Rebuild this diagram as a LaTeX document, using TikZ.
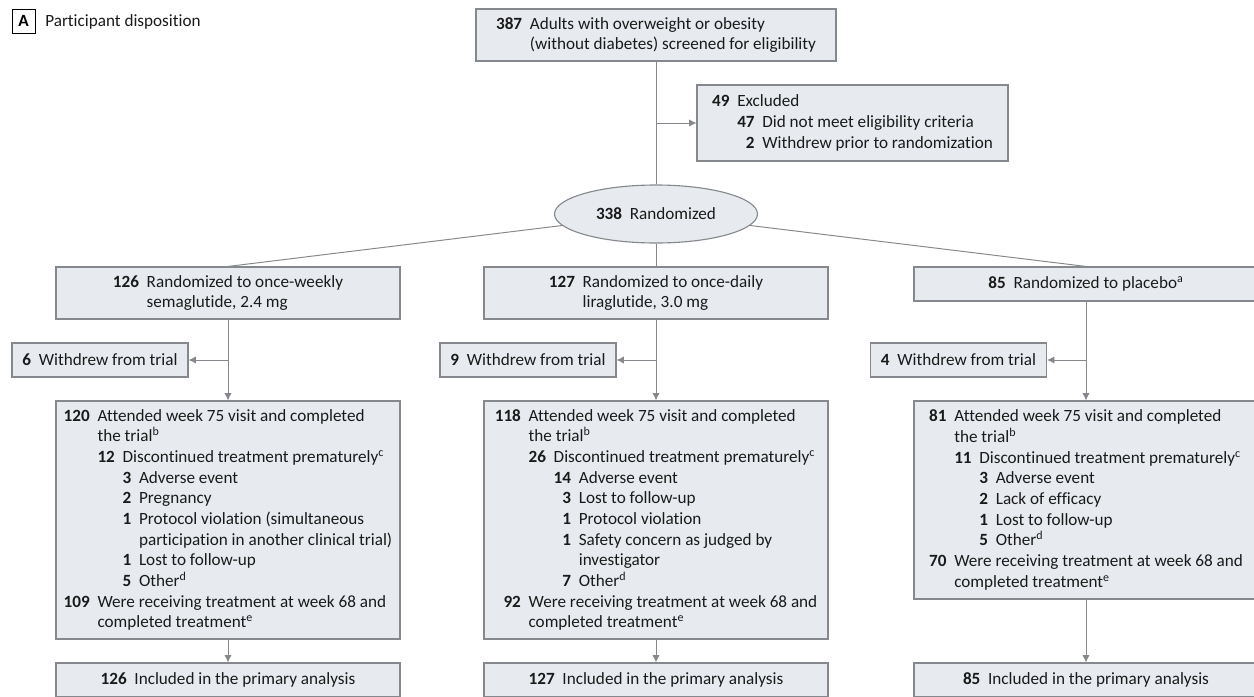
\documentclass[tikz,border=0pt]{standalone}
\usepackage{fontspec}
\usepackage{calc}
\setmainfont[Ligatures={NoCommon,NoRare}]{Carlito}
\definecolor{consortfill}{HTML}{E7EBEF}
\definecolor{consortgray}{HTML}{85888C}
\definecolor{consorttext}{HTML}{1A1A1A}
\usetikzlibrary{arrows.meta,positioning,shapes.geometric}
% bold count, right aligned in a column as wide as #1
\newcommand{\cnt}[2]{\makebox[\widthof{\textbf{#1}}][r]{\textbf{#2}}\hspace{0.45em}}
\newcommand{\skipcol}[1]{\hphantom{\textbf{#1}}\hspace{0.45em}}
\tikzset{
    consortbox/.style={
        draw=consortgray,
        fill=consortfill,
        line width=0.8pt,
        minimum width=8.6cm,
        inner sep=0pt,
        align=left,
        text=consorttext,
        font=\fontsize{12.2}{14.7}\selectfont
    },
    consortsmall/.style={
        consortbox,
        minimum width=4.4cm,
        minimum height=0.85cm
    },
    consortoval/.style={
        consortbox,
        ellipse,
        minimum width=5.075cm,
        minimum height=1.45cm
    },
    consortline/.style={
        draw=consortgray,
        line width=0.7pt
    },
    consortarrow/.style={
        -{Latex[length=1.8mm,width=1.8mm]},
        draw=consortgray,
        line width=0.7pt
    }
}

\begin{document}
\begin{tikzpicture}
    \useasboundingbox (0,0) rectangle (31.35,-17.4);
    % panel title
    \node[draw=black,line width=0.6pt,minimum width=0.575cm,minimum height=0.6cm,
        inner sep=0pt,font=\fontsize{12.2}{14}\selectfont\bfseries] (panel) at (0.5875,-0.525) {A};
    \node[anchor=west,inner sep=0pt,text=consorttext,font=\fontsize{12.2}{14}\selectfont]
        (paneltitle) at (1.125,-0.55) {Participant disposition};

    % enrollment
    \node[consortbox,minimum width=9cm,minimum height=1.3cm] (screened) at (16.4,-0.875)
        {\cnt{000}{387}Adults with overweight or obesity\\
         \skipcol{000}(without diabetes) screened for eligibility};
    \node[consortbox,minimum width=7.775cm,minimum height=1.9cm] (excluded) at (21.3125,-3.075)
        {\cnt{00}{49}Excluded\\
         \skipcol{00}\cnt{00}{47}Did not meet eligibility criteria\\
         \skipcol{00}\cnt{00}{2}Withdrew prior to randomization};
    \node[consortoval] (randomized) at (16.4,-5.35) {\cnt{338}{338}Randomized};

    % allocation
    \node[consortbox,minimum height=1.3cm] (semaarm) at (5.7,-7.325)
        {\cnt{000}{126}Randomized to once-weekly\\
         \skipcol{000}semaglutide, 2.4 mg};
    \node[consortbox,minimum height=1.3cm] (liraarm) at (16.4,-7.325)
        {\cnt{000}{127}Randomized to once-daily\\
         \skipcol{000}liraglutide, 3.0 mg};
    \node[consortbox,minimum height=0.85cm] (placarm) at (27.15,-7.1)
        {\cnt{85}{85}Randomized to placebo\textsuperscript{a}};

    % follow-up
    \node[consortsmall] (semawd) at (2.5,-9.0) {\cnt{6}{6}Withdrew from trial};
    \node[consortsmall] (lirawd) at (13.2,-9.0) {\cnt{9}{9}Withdrew from trial};
    \node[consortsmall] (placwd) at (23.9625,-9.0) {\cnt{4}{4}Withdrew from trial};

    \node[consortbox,minimum height=5.95cm] (semafu) at (5.7,-13.0)
        {\cnt{000}{120}Attended week 75 visit and completed\\
         \skipcol{000}the trial\textsuperscript{b}\\
         \skipcol{000}\cnt{00}{12}Discontinued treatment prematurely\textsuperscript{c}\\
         \skipcol{000}\skipcol{00}\cnt{0}{3}Adverse event\\
         \skipcol{000}\skipcol{00}\cnt{0}{2}Pregnancy\\
         \skipcol{000}\skipcol{00}\cnt{0}{1}Protocol violation (simultaneous\\
         \skipcol{000}\skipcol{00}\skipcol{0}participation in another clinical trial)\\
         \skipcol{000}\skipcol{00}\cnt{0}{1}Lost to follow-up\\
         \skipcol{000}\skipcol{00}\cnt{0}{5}Other\textsuperscript{d}\\
         \cnt{000}{109}Were receiving treatment at week 68 and\\
         \skipcol{000}completed treatment\textsuperscript{e}};
    \node[consortbox,minimum height=5.95cm] (lirafu) at (16.4,-13.0)
        {\cnt{000}{118}Attended week 75 visit and completed\\
         \skipcol{000}the trial\textsuperscript{b}\\
         \skipcol{000}\cnt{00}{26}Discontinued treatment prematurely\textsuperscript{c}\\
         \skipcol{000}\skipcol{00}\cnt{00}{14}Adverse event\\
         \skipcol{000}\skipcol{00}\cnt{00}{3}Lost to follow-up\\
         \skipcol{000}\skipcol{00}\cnt{00}{1}Protocol violation\\
         \skipcol{000}\skipcol{00}\cnt{00}{1}Safety concern as judged by\\
         \skipcol{000}\skipcol{00}\skipcol{00}investigator\\
         \skipcol{000}\skipcol{00}\cnt{00}{7}Other\textsuperscript{d}\\
         \cnt{000}{92}Were receiving treatment at week 68 and\\
         \skipcol{000}completed treatment\textsuperscript{e}};
    \node[consortbox,minimum height=4.95cm] (placfu) at (27.15,-12.5)
        {\cnt{00}{81}Attended week 75 visit and completed\\
         \skipcol{00}the trial\textsuperscript{b}\\
         \skipcol{00}\cnt{00}{11}Discontinued treatment prematurely\textsuperscript{c}\\
         \skipcol{00}\skipcol{00}\cnt{0}{3}Adverse event\\
         \skipcol{00}\skipcol{00}\cnt{0}{2}Lack of efficacy\\
         \skipcol{00}\skipcol{00}\cnt{0}{1}Lost to follow-up\\
         \skipcol{00}\skipcol{00}\cnt{0}{5}Other\textsuperscript{d}\\
         \cnt{00}{70}Were receiving treatment at week 68 and\\
         \skipcol{00}completed treatment\textsuperscript{e}};

    % analysis
    \node[consortbox,minimum height=0.85cm] (semaan) at (5.7,-17.0)
        {\cnt{126}{126}Included in the primary analysis};
    \node[consortbox,minimum height=0.85cm] (liraan) at (16.4,-17.0)
        {\cnt{127}{127}Included in the primary analysis};
    \node[consortbox,minimum height=0.85cm] (placan) at (27.15,-17.0)
        {\cnt{85}{85}Included in the primary analysis};

    % connectors
    \draw[consortline] (screened) -- (randomized);
    \draw[consortarrow] (screened.south |- excluded.west) -- (excluded.west);
    \draw[consortline] (randomized) -- (semaarm.north);
    \draw[consortline] (randomized) -- (liraarm.north);
    \draw[consortline] (randomized) -- (placarm.north);

    \draw[consortarrow] (semaarm) -- (semafu);
    \draw[consortarrow] (semaarm.south |- semawd.east) -- (semawd.east);
    \draw[consortarrow] (semafu) -- (semaan);
    \draw[consortarrow] (liraarm) -- (lirafu);
    \draw[consortarrow] (liraarm.south |- lirawd.east) -- (lirawd.east);
    \draw[consortarrow] (lirafu) -- (liraan);
    \draw[consortarrow] (placarm) -- (placfu);
    \draw[consortarrow] (placarm.south |- placwd.east) -- (placwd.east);
    \draw[consortarrow] (placfu) -- (placan);
\end{tikzpicture}
\end{document}
